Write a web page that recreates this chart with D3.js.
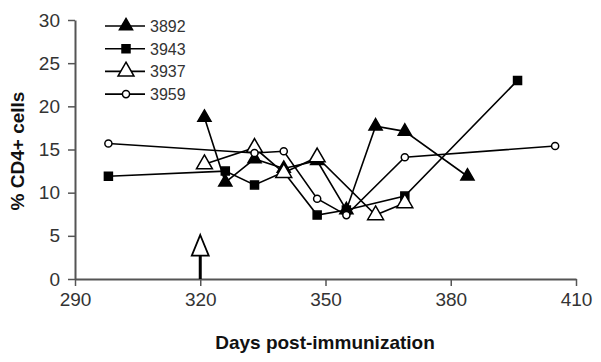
<!DOCTYPE html>
<html>
<head>
<meta charset="utf-8">
<script src="https://cdn.jsdelivr.net/npm/d3@7"></script>
<style>
  body { margin: 0; background: #fff; }
  text { font-family: Arial, "Liberation Sans", sans-serif; }
</style>
</head>
<body>
<div id="chart"></div>
<script>
// data
const days3892 = [321, 326, 333, 340, 348, 355, 362, 369, 384];
const vals3892 = [18.7, 11.2, 13.9, 12.8, 13.7, 8.0, 17.7, 17.1, 11.9];
const days3943 = [298, 326, 333, 340, 348, 355, 369, 396];
const vals3943 = [11.9, 12.5, 10.9, 12.4, 7.4, 8.0, 9.6, 23.0];
const days3937 = [321, 333, 340, 348, 362, 369];
const vals3937 = [13.3, 15.2, 12.3, 14.1, 7.4, 8.8];
const days3959 = [298, 333, 340, 348, 355, 369, 405];
const vals3959 = [15.7, 14.6, 14.8, 9.3, 7.4, 14.1, 15.4];
const seriesNames = ['3892', '3943', '3937', '3959'];
const xTicks = [290, 320, 350, 380, 410];
const yTicks = [0, 5, 10, 15, 20, 25, 30];
const arrowDay = 320;

const width = 601, height = 362;
const margin = { top: 20, right: 25, bottom: 83, left: 75 };

const svg = d3.select('#chart').append('svg')
  .attr('width', width)
  .attr('height', height);

const x = d3.scaleLinear().domain([290, 410]).range([margin.left, width - margin.right]);
const y = d3.scaleLinear().domain([0, 30]).range([height - margin.bottom, margin.top]);

// marker shapes per series
const markers = {
  '3892': { shape: d3.symbolTriangle, size: 75, fill: '#000' },
  '3943': { shape: d3.symbolSquare, size: 64, fill: '#000' },
  '3937': { shape: d3.symbolTriangle, size: 110, fill: '#fff' },
  '3959': { shape: d3.symbolCircle, size: 40, fill: '#fff' }
};

const series = [
  { name: '3892', days: days3892, vals: vals3892 },
  { name: '3943', days: days3943, vals: vals3943 },
  { name: '3937', days: days3937, vals: vals3937 },
  { name: '3959', days: days3959, vals: vals3959 }
];

// axes
const axisColor = '#555';
const xAxis = svg.append('g')
  .attr('transform', `translate(0,${y(0)})`)
  .call(d3.axisBottom(x).tickValues(xTicks).tickSize(7).tickPadding(7).tickSizeOuter(0));
const yAxis = svg.append('g')
  .attr('transform', `translate(${x(290)},0)`)
  .call(d3.axisLeft(y).tickValues(yTicks).tickSize(7).tickPadding(8).tickSizeOuter(0));
[xAxis, yAxis].forEach(a => {
  a.select('.domain').attr('stroke', axisColor).attr('stroke-width', 2);
  a.selectAll('.tick line').attr('stroke', axisColor).attr('stroke-width', 1.5);
  a.selectAll('.tick text').attr('fill', '#333').style('font-size', '19px');
});

// arrow at immunization day
const ax = x(arrowDay);
svg.append('line')
  .attr('x1', ax).attr('x2', ax)
  .attr('y1', y(0)).attr('y2', y(2.7))
  .attr('stroke', '#000').attr('stroke-width', 3);
svg.append('path')
  .attr('d', `M${ax},${y(5.1)} L${ax + 8.5},${y(2.7)} L${ax - 8.5},${y(2.7)} Z`)
  .attr('fill', '#fff').attr('stroke', '#000').attr('stroke-width', 1.8);

// lines and markers
const line = d3.line().x(d => x(d[0])).y(d => y(d[1]));
series.forEach(s => {
  const pts = s.days.map((d, i) => [d, s.vals[i]]);
  svg.append('path')
    .datum(pts)
    .attr('d', line)
    .attr('fill', 'none')
    .attr('stroke', '#000')
    .attr('stroke-width', 1.6);
  const m = markers[s.name];
  svg.selectAll(null)
    .data(pts)
    .enter().append('path')
    .attr('transform', d => `translate(${x(d[0])},${y(d[1])})`)
    .attr('d', d3.symbol().type(m.shape).size(m.size))
    .attr('fill', m.fill)
    .attr('stroke', '#000')
    .attr('stroke-width', 1.5);
});

// legend
const legend = svg.append('g').attr('transform', 'translate(105,26)');
seriesNames.forEach((name, i) => {
  const g = legend.append('g').attr('transform', `translate(0,${i * 22.7})`);
  g.append('line').attr('x1', 0).attr('x2', 40).attr('y1', 0).attr('y2', 0)
    .attr('stroke', '#000').attr('stroke-width', 1.6);
  const m = markers[name];
  g.append('path')
    .attr('transform', 'translate(21,0)')
    .attr('d', d3.symbol().type(m.shape).size(m.size))
    .attr('fill', m.fill).attr('stroke', '#000').attr('stroke-width', 1.5);
  g.append('text').attr('x', 45).attr('y', 5.8)
    .attr('fill', '#333').style('font-size', '16px').text(name);
});

// axis titles
svg.append('text')
  .attr('x', 325).attr('y', 349)
  .attr('text-anchor', 'middle')
  .style('font-size', '19px').style('font-weight', 'bold')
  .attr('fill', '#111')
  .text('Days post-immunization');
svg.append('text')
  .attr('transform', `translate(24,151) rotate(-90)`)
  .attr('text-anchor', 'middle')
  .style('font-size', '19px').style('font-weight', 'bold')
  .attr('fill', '#111')
  .text('% CD4+ cells');
</script>
</body>
</html>
